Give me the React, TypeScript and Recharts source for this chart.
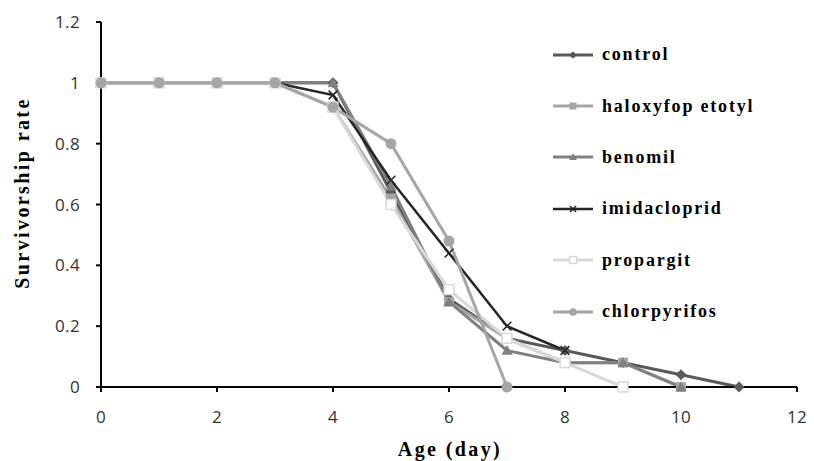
import React from 'react';
import { LineChart, Line, XAxis, YAxis } from 'recharts';

const ages = [0, 1, 2, 3, 4, 5, 6, 7, 8, 9, 10, 11];
const control = [1, 1, 1, 1, 1, 0.64, 0.29, 0.16, 0.12, 0.08, 0.04, 0];
const haloxyfop = [1, 1, 1, 1, 0.92, 0.62, 0.28, 0.16, 0.08, 0.08, 0, null];
const benomil = [1, 1, 1, 1, 1, 0.66, 0.28, 0.12, 0.08, 0.08, 0, null];
const imidacloprid = [1, 1, 1, 1, 0.96, 0.68, 0.44, 0.2, 0.12, null, null, null];
const propargit = [1, 1, 1, 1, 0.92, 0.6, 0.32, 0.16, 0.08, 0, null, null];
const chlorpyrifos = [1, 1, 1, 1, 0.92, 0.8, 0.48, 0, null, null, null, null];

const xTicks = [0, 2, 4, 6, 8, 10, 12];
const yTicks = [0, 0.2, 0.4, 0.6, 0.8, 1, 1.2];

const data = ages.map((a, i) => ({
  age: a,
  control: control[i],
  haloxyfop: haloxyfop[i],
  benomil: benomil[i],
  imidacloprid: imidacloprid[i],
  propargit: propargit[i],
  chlorpyrifos: chlorpyrifos[i],
}));

type Shape = 'diamond' | 'square' | 'triangle' | 'cross' | 'hollow' | 'circle';

const series: { key: string; name: string; color: string; shape: Shape; width: number }[] = [
  { key: 'control', name: 'control', color: '#595959', shape: 'diamond', width: 3 },
  { key: 'haloxyfop', name: 'haloxyfop etotyl', color: '#a6a6a6', shape: 'square', width: 3 },
  { key: 'benomil', name: 'benomil', color: '#808080', shape: 'triangle', width: 3 },
  { key: 'imidacloprid', name: 'imidacloprid', color: '#262626', shape: 'cross', width: 2.5 },
  { key: 'propargit', name: 'propargit', color: '#d9d9d9', shape: 'hollow', width: 3 },
  { key: 'chlorpyrifos', name: 'chlorpyrifos', color: '#a6a6a6', shape: 'circle', width: 3 },
];

function Marker({ cx, cy, shape, color, s = 1 }: { cx: number; cy: number; shape: Shape; color: string; s?: number }) {
  if (cx == null || cy == null || isNaN(cx) || isNaN(cy)) return null;
  const r = 5.5 * s;
  switch (shape) {
    case 'diamond':
      return <path d={`M${cx},${cy - r}L${cx + r},${cy}L${cx},${cy + r}L${cx - r},${cy}Z`} fill={color} />;
    case 'square':
      return <rect x={cx - r * 0.9} y={cy - r * 0.9} width={r * 1.8} height={r * 1.8} fill={color} />;
    case 'triangle':
      return <path d={`M${cx},${cy - r}L${cx + r},${cy + r * 0.75}L${cx - r},${cy + r * 0.75}Z`} fill={color} />;
    case 'cross':
      return (
        <path d={`M${cx - r * 0.8},${cy - r * 0.8}L${cx + r * 0.8},${cy + r * 0.8}M${cx - r * 0.8},${cy + r * 0.8}L${cx + r * 0.8},${cy - r * 0.8}`} stroke={color} strokeWidth={1.5} />
      );
    case 'hollow':
      return <rect x={cx - r * 0.9} y={cy - r * 0.9} width={r * 1.8} height={r * 1.8} fill="#fff" stroke={color} strokeWidth={1.5} />;
    default:
      return <circle cx={cx} cy={cy} r={r} fill={color} />;
  }
}

const serif = '"Liberation Serif", "Times New Roman", serif';
const titleStyle = { fontFamily: serif, fontWeight: 'bold', fontSize: 20, fill: '#000', letterSpacing: 2.4 } as const;

function LegendBox() {
  return (
    <div style={{ position: 'absolute', left: 553, top: 29 }}>
      {series.map((s) => (
        <div key={s.key} style={{ display: 'flex', alignItems: 'center', height: 51.4 }}>
          <svg width={40} height={16} style={{ marginRight: 9 }}>
            <line x1={0} y1={8} x2={40} y2={8} stroke={s.color} strokeWidth={s.width} />
            <Marker cx={20} cy={8} shape={s.shape} color={s.color} s={0.7} />
          </svg>
          <span style={{ fontFamily: serif, fontWeight: 'bold', fontSize: 18, color: '#000', letterSpacing: 1.8 }}>
            {s.name}
          </span>
        </div>
      ))}
    </div>
  );
}

const tickStyle = { fill: '#333', fontSize: 17, fontFamily: '"Open Sans", sans-serif', letterSpacing: 0.4 };

export default function App() {
  return (
    <div style={{ position: 'absolute', left: 0, top: 0, width: 814, height: 461, background: '#fff' }}>
      <LineChart width={814} height={461} data={data} margin={{ top: 22, right: 17, bottom: 44, left: 41 }}>
        <XAxis
          dataKey="age"
          type="number"
          domain={[0, 12]}
          ticks={xTicks}
          height={30}
          axisLine={{ stroke: '#000', strokeWidth: 2 }}
          tickLine={{ stroke: '#000', strokeWidth: 2 }}
          tickSize={5}
          tickMargin={19}
          tick={tickStyle}
          label={{
            content: () => (
              <text x={450} y={456} textAnchor="middle" style={titleStyle}>
                Age (day)
              </text>
            ),
          }}
        />
        <YAxis
          type="number"
          domain={[0, 1.2]}
          ticks={yTicks}
          width={60}
          axisLine={{ stroke: '#000', strokeWidth: 2 }}
          tickLine={{ stroke: '#000', strokeWidth: 2 }}
          tickSize={5}
          tickMargin={16}
          tick={tickStyle}
          label={{
            content: () => (
              <text x={29} y={193} transform="rotate(-90, 29, 193)" textAnchor="middle" style={titleStyle}>
                Survivorship rate
              </text>
            ),
          }}
        />
        {series.map((s) => (
          <Line
            key={s.key}
            dataKey={s.key}
            name={s.name}
            type="linear"
            stroke={s.color}
            strokeWidth={s.width}
            isAnimationActive={false}
            activeDot={false}
            dot={(p: any) => <Marker key={`${s.key}-${p.index}`} cx={p.cx} cy={p.cy} shape={s.shape} color={s.color} />}
          />
        ))}
      </LineChart>
      <LegendBox />
    </div>
  );
}
